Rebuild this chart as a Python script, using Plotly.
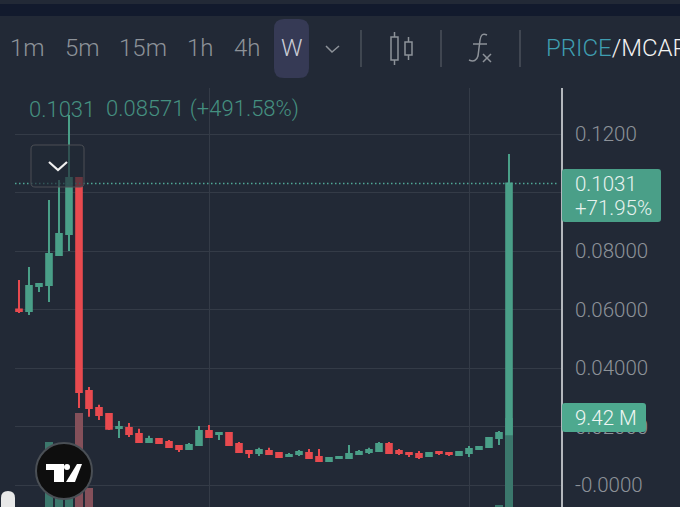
import plotly.graph_objects as go

W, H = 680, 507

# weekly candles
opens = [.0600, .0595, .0680, .0684, .0786, .0858, .1050, .0321, .0263, .0243,
         .0195, .0195, .0174, .0147, .0157, .0147, .0133, .0123, .0137, .0185,
         .0174, .0178, .0140, .0116, .0109, .0116, .0109, .0099, .0106, .0109,
         .0096, .0082, .0092, .0092, .0106, .0113, .0116, .0140, .0116, .0109,
         .0106, .0099, .0113, .0109, .0103, .0109, .0123, .0130, .0161, .01739]
highs = [.0701, .0745, .0691, .0974, .1043, .1265, .1050, .0335, .0274, .0246,
         .0219, .0212, .0192, .0168, .0161, .0154, .0133, .0144, .0202, .0205,
         .0178, .0178, .0147, .0116, .0127, .0127, .0109, .0109, .0120, .0123,
         .0123, .0096, .0099, .0137, .0120, .0127, .0147, .0147, .0123, .0113,
         .0116, .0109, .0116, .0113, .0116, .0133, .0133, .0161, .0185, .1132]
lows = [.0588, .0581, .0660, .0626, .0786, .0800, .0263, .0233, .0222, .0188,
        .0161, .0164, .0144, .0147, .0140, .0130, .0113, .0123, .0137, .0161,
        .0154, .0137, .0109, .0092, .0099, .0106, .0096, .0096, .0099, .0089,
        .0082, .0082, .0092, .0092, .0106, .0106, .0116, .0109, .0103, .0096,
        .0089, .0099, .0103, .0099, .0103, .0096, .0123, .0130, .0137, .01739]
closes = [.0595, .0680, .0687, .0790, .0858, .1050, .0318, .0263, .0239, .0192,
          .0198, .0174, .0147, .0157, .0144, .0130, .0123, .0137, .0185, .0164,
          .0178, .0137, .0113, .0109, .0120, .0106, .0096, .0103, .0113, .0092,
          .0082, .0092, .0096, .0106, .0113, .0120, .0140, .0109, .0109, .0106,
          .0096, .0109, .0109, .0106, .0113, .0123, .0130, .0161, .0178, .1031]
volumes = [0, 0, 0, 6.88, 6.56, 6.03, 9.95, 2.01, 0, 0,
           0, 0, 0, 0, 0, 0, 0, 0, 0, 0,
           0, 0, 0, 0, 0, 0, 0, 0, 0, 0,
           0, 0, 0, 0, 0, 0, 0, 0, 0, 0,
           0, 0, 0, 0, 0, 0, 0, 0, 0.21, 9.42]

price_ticks = [0.12, 0.10, 0.08, 0.06, 0.04, 0.02, 0.0]
# 0.1000 sits behind the price tag in the reference
price_labels = ["0.1200", "", "0.08000", "0.06000", "0.04000", "0.02000", "-0.0000"]
time_ticks = [19, 45]
intervals = ["1m", "5m", "15m", "1h", "4h", "W"]
interval_x = [27, 82, 143, 200, 247, 292]

BG = "#222936"
GRID = "#343b47"
GREEN = "#4a9f88"
RED = "#e84a4f"
GREY = "#8d9299"


def px(x, y):
    return f"{x / W:.5f} {1 - y / H:.5f}"


def path(points, close=False):
    d = "M" + " L".join(px(*p) for p in points)
    return d + (" Z" if close else "")


def round_rect(x0, y0, x1, y1, r):
    return (f"M{px(x0 + r, y0)} L{px(x1 - r, y0)} Q{px(x1, y0)} {px(x1, y0 + r)} "
            f"L{px(x1, y1 - r)} Q{px(x1, y1)} {px(x1 - r, y1)} L{px(x0 + r, y1)} "
            f"Q{px(x0, y1)} {px(x0, y1 - r)} L{px(x0, y0 + r)} Q{px(x0, y0)} {px(x0 + r, y0)} Z")


def circle(cx, cy, r, fill, line=None, width=0):
    return dict(type="circle", xref="paper", yref="paper", layer="above",
                x0=(cx - r) / W, x1=(cx + r) / W, y0=1 - (cy + r) / H, y1=1 - (cy - r) / H,
                fillcolor=fill, line=dict(color=line or fill, width=width))


def shape(d, fill="rgba(0,0,0,0)", line=None, width=0, layer="above"):
    return dict(type="path", path=d, xref="paper", yref="paper", layer=layer,
                fillcolor=fill, line=dict(color=line or "rgba(0,0,0,0)", width=width))


def label(text, x, y, size=20, color=GREY, anchor="left", weight=300):
    return dict(text=text, x=x / W, y=1 - y / H, xref="paper", yref="paper", xanchor=anchor,
                yanchor="middle", showarrow=False, align="left", borderpad=0, borderwidth=0,
                font=dict(family="Roboto", size=size, color=color, weight=weight))


xs = list(range(len(opens)))
vol_colors = ["#3b776c" if c >= o else "#84505a" for o, c in zip(opens, closes)]

fig = go.Figure()
fig.add_trace(go.Bar(x=xs, y=volumes, marker=dict(color=vol_colors, line_width=0),
                     width=0.8, yaxis="y", showlegend=False))
fig.add_trace(go.Candlestick(x=xs, open=opens, high=highs, low=lows, close=closes, yaxis="y2",
                             increasing=dict(line=dict(color=GREEN, width=2), fillcolor=GREEN),
                             decreasing=dict(line=dict(color=RED, width=2), fillcolor=RED),
                             whiskerwidth=0, showlegend=False))

shapes = [
    # top bands and toolbar pieces
    shape(path([(0, 4), (W, 4), (W, 16), (0, 16)], True), fill="#121a2d", layer="below"),
    shape(round_rect(274, 19, 309, 78, 10), fill="#363a55", layer="below"),
    shape(path([(326, 46), (332, 52), (339, 46)]), line=GREY, width=1.5),
    shape(path([(361, 30), (361, 67)]), line="#4b515b", width=1.5),
    shape(path([(441, 30), (441, 67)]), line="#4b515b", width=1.5),
    shape(path([(520, 30), (520, 67)]), line="#4b515b", width=1.5),
    shape(path([(391, 37), (398, 37), (398, 60), (391, 60)], True), line=GREY, width=1.5),
    shape(path([(394.5, 32), (394.5, 37)]), line=GREY, width=1.5),
    shape(path([(394.5, 60), (394.5, 65)]), line=GREY, width=1.5),
    shape(path([(405, 42), (412, 42), (412, 55), (405, 55)], True), line=GREY, width=1.5),
    shape(path([(408.5, 37), (408.5, 42)]), line=GREY, width=1.5),
    shape(path([(408.5, 55), (408.5, 60)]), line=GREY, width=1.5),
    shape(f"M{px(487, 35)} Q{px(481, 32)} {px(480, 40)} L{px(478, 56)} Q{px(476, 63)} {px(469, 60)}",
          line=GREY, width=1.5),
    shape(path([(473, 44), (487, 44)]), line=GREY, width=1.5),
    shape(path([(483, 54), (491, 62)]), line=GREY, width=1.5),
    shape(path([(491, 54), (483, 62)]), line=GREY, width=1.5),
    # last price line
    dict(type="line", xref="paper", yref="y2", x0=15 / W, x1=557 / W, y0=closes[-1], y1=closes[-1],
         layer="above", line=dict(color="#4fa896", width=1.5, dash="1.5px,2.5px")),
    # collapse button
    shape(round_rect(31, 145, 84, 187, 4), fill="rgba(34,41,54,0.65)", line="#4c4f55", width=1),
    shape(path([(49, 162), (58, 170), (67, 162)]), line="#f0f0f0", width=2.2),
    # price and volume tags
    shape(round_rect(562, 169, 661, 222, 3), fill=GREEN),
    shape(round_rect(562, 403, 646, 432, 3), fill="#4ea98f"),
    # logo
    circle(64, 471, 28, "#0e0e0e", "#4a4f55", 2),
    shape(path([(46, 464), (64, 464), (64, 482), (54, 482), (54, 470), (46, 470)], True), fill="#ffffff"),
    circle(67, 467, 3, "#ffffff"),
    shape(path([(77, 464), (82, 464), (75, 482), (66, 482)], True), fill="#ffffff"),
    shape(round_rect(1, 491, 15, 530, 7), fill="#e8e8e8"),
]

annotations = [label(t, x, 48, size=24, anchor="center") for t, x in zip(intervals[:-1], interval_x[:-1])]
annotations += [
    label(intervals[-1], interval_x[-1], 48, size=24, color="#c9ccd6", anchor="center"),
    label('<span style="color:#3f9db0">PRICE</span>/MCAP', 546, 48, size=24, color="#f2f2f2"),
    label("0.1031", 29, 109, size=22, color="#459080"),
    label("0.08571 (+491.58%)", 106, 109, size=22, color="#459080"),
    label("0.1031", 575, 184, size=20.5, color="#e6f2ee"),
    label("+71.95%", 575, 208, size=20.5, color="#e6f2ee"),
    label("9.42 M", 575, 418, size=20.5, color="#eef6f3"),
]

fig.update_layout(
    width=W, height=H,
    margin=dict(l=0, r=0, t=0, b=0),
    paper_bgcolor=BG, plot_bgcolor=BG,
    showlegend=False,
    boxgap=0.2,
    shapes=shapes, annotations=annotations,
    xaxis=dict(domain=[15 / W, 561 / W], range=[-0.4, 54.2], rangeslider=dict(visible=False),
               tickvals=time_ticks, showticklabels=False, showgrid=True, gridcolor=GRID, gridwidth=1,
               zeroline=False, ticks=""),
    yaxis=dict(domain=[0, 1 - 88 / H], range=[0, 44.35], visible=False),
    yaxis2=dict(overlaying="y", side="right", range=[-0.00752, 0.13573],
                tickvals=price_ticks, ticktext=price_labels, showgrid=True, gridcolor=GRID, gridwidth=1,
                zeroline=False, showline=True, linecolor="#b4b8bd", linewidth=2, ticks="outside",
                ticklen=8, tickcolor="rgba(0,0,0,0)",
                tickfont=dict(family="Roboto", size=20.5, color=GREY, weight=300)),
)

fig.write_html("out.html", config=dict(displayModeBar=False),
               post_script="document.body.style.margin='0';document.documentElement.style.overflow='hidden';")
